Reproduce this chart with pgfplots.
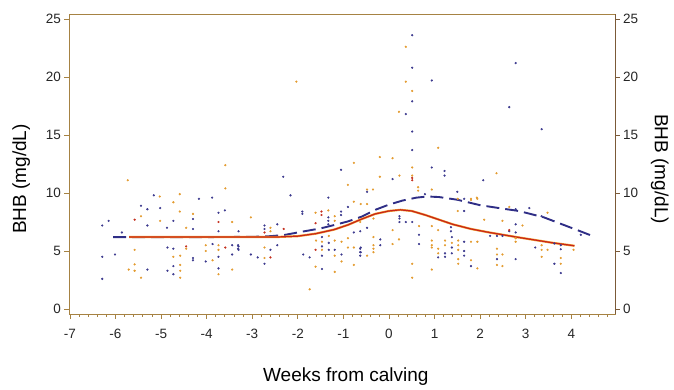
\documentclass[border=0pt]{standalone}
\usepackage{pgfplots}
\pgfplotsset{compat=1.18}
\usepackage{fontspec}
\setmainfont{Liberation Sans}
\definecolor{dotorange}{HTML}{E39B2F}
\definecolor{dotblue}{HTML}{3C3A8E}
\definecolor{dotred}{HTML}{C4301F}
\definecolor{dashblue}{HTML}{2F2E86}
\definecolor{linered}{HTML}{C8241A}
\definecolor{lineorange}{HTML}{F0A030}
\definecolor{frame}{HTML}{A68243}
\definecolor{frameR}{HTML}{7B5A38}
\begin{document}
\begin{tikzpicture}
\useasboundingbox (-69pt,-75pt) rectangle (605pt,314pt);
\pgfplotsset{
  common/.style={
    at={(0pt,0pt)}, anchor=south west,
    scale only axis, width=546pt, height=300pt,
    xmin=-7.02, xmax=4.96, ymin=-0.43, ymax=25.43,
    tick align=outside,
    major tick length=4.5pt, minor tick length=2.5pt,
    ticklabel style={font=\fontsize{13.5}{15}\selectfont, text=black!85},
    /pgf/number format/assume math mode=true,
    label style={font=\fontsize{19}{22}\selectfont},
  },
  dots/.style={only marks, mark=*, mark size=0.9pt, color=#1, mark options={draw=none, fill=#1}},
}
\begin{axis}[common,
  axis line style={draw=frame, line width=0.9pt},
  every tick/.style={draw=frame, line width=0.8pt},
  xtick={-7,...,5}, minor x tick num=4,
  ytick={0,5,...,25},
  xtick pos=bottom, ytick pos=left,
  xticklabel style={yshift=-7pt},
  xlabel={Weeks from calving},
  ylabel={BHB (mg/dL)},
  xlabel style={at={(axis description cs:0.507,-0.21)}, anchor=center},
  ylabel style={at={(axis description cs:-0.0875,0.45)}, anchor=center},
]
% orange dots
\addplot[dots=dotorange] table {
x y
-2.03 19.6
0.37 22.6
0.37 19.6
0.51 18.8
0.22 17.0
1.08 13.9
-0.77 12.6
-0.9 10.7
-0.2 13.1
0.08 13.0
-0.2 11.4
0.23 11.5
0.51 12.2
2.36 11.7
0.64 10.5
0.64 10.2
-0.35 10.3
1.93 9.6
1.8 9.4
-5.73 11.1
-3.59 12.4
-3.59 10.4
-5.03 9.7
-4.59 9.9
-4.73 9.2
-4.59 8.4
-5.44 8.0
-5.02 7.6
-4.3 8.2
-3.44 7.5
-4.45 7.0
-5.58 5.1
-4.73 4.5
-4.58 4.6
-4.45 5.2
-4.02 5.5
-4.02 5.0
-3.87 4.2
-3.74 5.5
-3.74 5.1
-3.44 3.4
-3.74 3.0
-5.71 3.4
-5.58 3.3
-5.58 3.85
-5.44 2.7
-4.58 3.8
-4.58 3.3
-4.58 2.7
-0.77 9.25
-0.62 9.05
-1.33 8.5
-1.19 8.0
-1.19 7.6
-1.61 8.3
-3.03 7.9
-2.6 7.0
-2.6 6.7
-2.73 5.3
-2.73 4.4
-1.6 5.9
-1.47 5.8
-1.47 5.1
-1.32 6.3
-1.19 5.9
-1.19 4.6
-1.04 5.8
-1.04 4.1
-0.9 6.1
-0.9 5.3
-0.77 5.3
-0.77 3.8
-1.61 3.65
-1.19 3.2
-1.74 1.7
-0.48 10.3
0.51 11.5
0.94 10.3
1.8 9.5
1.94 9.5
1.51 9.5
-0.48 9.05
2.09 7.7
1.51 8.45
-0.34 7.8
-0.63 7.5
0.08 6.8
0.66 7.15
0.94 7.15
1.08 6.8
0.22 6.0
0.08 5.6
-0.34 6.2
-0.34 5.5
-0.34 5.2
-0.34 4.9
-0.48 4.6
0.94 5.9
0.94 5.5
0.94 5.3
1.08 5.2
1.08 4.8
1.23 5.9
1.23 5.5
1.38 5.7
1.52 5.9
1.52 5.5
1.52 5.1
1.52 4.3
1.52 3.9
1.8 5.8
1.8 4.2
1.94 5.8
1.94 3.5
0.51 3.9
0.94 3.4
0.51 2.7
2.64 8.8
3.48 8.3
2.49 7.6
2.93 7.2
2.78 6.1
2.78 5.8
3.35 5.5
3.35 5.1
3.35 4.5
3.48 5.1
3.77 4.4
3.77 3.9
4.05 5.1
2.37 5.2
2.37 4.7
2.37 3.8
2.49 4.7
2.49 3.7
};
% blue dots
\addplot[dots=dotblue] table {
x y
0.51 23.6
0.51 20.8
0.51 17.9
0.37 16.8
0.51 15.3
0.51 13.7
2.78 21.2
0.94 19.7
2.64 17.4
3.35 15.5
-1.05 12.0
0.08 11.2
0.94 12.2
1.22 11.9
1.22 11.5
2.07 11.1
1.5 10.1
0.79 9.9
-0.48 10.1
-2.32 11.4
-2.16 9.8
-5.16 9.8
-4.17 9.5
-3.88 9.6
-1.33 9.6
-5.44 8.9
-5.3 8.6
-5.02 8.7
-4.3 7.76
-3.74 8.3
-3.6 8.5
-4.73 7.6
-5.3 7.2
-4.87 7.0
-4.3 6.9
-3.74 6.7
-6.15 7.6
-6.29 7.2
-5.86 6.6
-6.29 4.5
-6.01 4.7
-4.86 5.3
-4.73 5.2
-4.3 4.4
-4.3 4.2
-4.02 4.1
-3.87 5.6
-3.74 4.5
-3.44 5.5
-3.44 4.7
-3.31 5.5
-3.31 5.2
-3.74 3.5
-6.29 2.6
-5.3 3.4
-4.86 3.3
-4.73 3.7
-4.73 3.0
-0.9 8.8
-1.05 8.4
-1.05 8.1
-1.33 7.9
-1.33 7.6
-1.33 7.3
-1.9 8.4
-1.9 8.2
-2.73 7.2
-2.73 6.9
-2.45 7.3
-3.3 6.7
-3.3 5.4
-3.3 5.1
-3.03 4.7
-2.88 4.45
-2.6 5.1
-2.73 3.9
-2.45 5.5
-1.88 4.7
-1.74 4.45
-1.47 6.2
-1.47 5.4
-1.47 4.6
-1.32 5.7
-1.32 5.1
-1.19 5.1
-1.04 4.7
-0.77 6.6
-0.62 5.3
-0.62 4.9
-1.47 3.45
1.65 9.5
1.65 8.45
0.23 8.0
0.23 7.8
0.23 7.5
0.37 7.5
0.51 7.5
-0.48 7.0
-0.63 6.7
0.66 6.4
1.36 7.05
1.36 6.7
0.66 5.6
-0.19 6.0
-0.19 5.5
-0.63 5.2
-0.63 4.9
-0.63 4.6
1.23 4.8
1.23 4.5
1.38 6.2
1.38 5.3
1.38 4.8
1.65 5.8
1.65 5.0
1.65 4.6
1.8 3.7
1.08 4.45
2.78 8.6
3.08 8.7
3.35 8.0
2.78 7.3
2.64 6.7
2.78 6.6
2.22 6.3
2.37 6.3
2.49 6.3
3.21 5.3
3.63 5.65
3.77 5.5
3.77 5.15
3.77 3.1
3.63 3.9
2.37 4.3
2.78 4.3
4.21 6.4
};
% red dots
\addplot[dots=dotred] table {
x y
0.51 11.3
0.51 11.1
-5.58 7.7
-3.74 7.5
-3.59 5.3
-4.45 5.4
-2.73 6.6
-2.6 4.45
-2.31 6.9
-1.48 8.4
-1.48 8.1
-1.61 7.4
-1.61 5.1
2.64 6.8
};
% blue dashed curve
\addplot[no markers, sharp plot, dashblue, line width=1.9pt, dash pattern=on 13pt off 6pt] table {
x y
-6.05 6.2
-5.0 6.2
-4.0 6.2
-3.0 6.22
-2.6 6.28
-2.3 6.38
-1.9 6.67
-1.5 6.95
-1.2 7.24
-0.9 7.55
-0.6 7.96
-0.3 8.55
0.0 9.0
0.3 9.35
0.6 9.6
0.85 9.7
1.1 9.65
1.5 9.42
2.0 8.95
2.5 8.65
2.85 8.45
3.1 8.2
3.4 7.9
3.7 7.45
4.0 7.0
4.2 6.7
4.43 6.35
};
% red solid curve (orange halo)
\addplot[no markers, sharp plot, lineorange, line width=2.2pt] table {
x y
-5.7 6.2
-5.0 6.2
-4.0 6.2
-3.0 6.2
-2.5 6.2
-2.0 6.28
-1.6 6.5
-1.2 6.85
-0.9 7.25
-0.6 7.75
-0.3 8.2
0.0 8.45
0.25 8.55
0.5 8.45
0.8 8.1
1.1 7.7
1.4 7.3
1.8 6.9
2.2 6.6
2.8 6.2
3.2 5.95
3.6 5.7
4.07 5.45
};
\addplot[no markers, sharp plot, linered, line width=1.2pt] table {
x y
-5.7 6.2
-5.0 6.2
-4.0 6.2
-3.0 6.2
-2.5 6.2
-2.0 6.28
-1.6 6.5
-1.2 6.85
-0.9 7.25
-0.6 7.75
-0.3 8.2
0.0 8.45
0.25 8.55
0.5 8.45
0.8 8.1
1.1 7.7
1.4 7.3
1.8 6.9
2.2 6.6
2.8 6.2
3.2 5.95
3.6 5.7
4.07 5.45
};
\end{axis}
\begin{axis}[common,
  axis x line=none, axis y line*=right,
  axis line style={draw=frameR, line width=0.9pt},
  every tick/.style={draw=frameR, line width=0.8pt},
  ytick={0,5,...,25},
  ylabel={BHB (mg/dL)},
  ylabel style={at={(axis description cs:1.082,0.483)}, anchor=center, rotate=180},
]
\end{axis}
\end{tikzpicture}
\end{document}
